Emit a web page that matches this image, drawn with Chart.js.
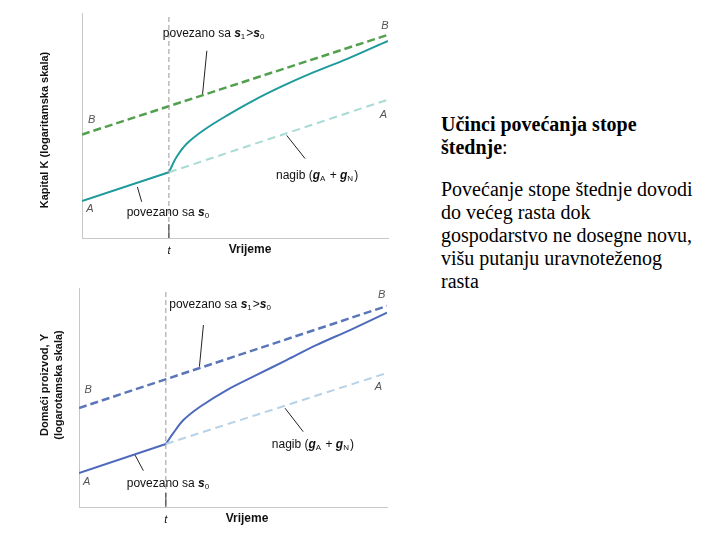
<!DOCTYPE html>
<html>
<head>
<meta charset="utf-8">
<script src="https://cdn.jsdelivr.net/npm/chart.js@4"></script>
<style>
  body { margin: 0; background: #fff; width: 720px; height: 540px; overflow: hidden; position: relative; }
  .panel { position: absolute; left: 0; width: 400px; height: 270px; }
  .txt { position: absolute; left: 441px; font-family: "Liberation Serif", "Times New Roman", serif; font-size: 20px; line-height: 23px; color: #000; }
</style>
</head>
<body>
<div class="panel" style="top:0"><canvas id="chartK" width="400" height="270"></canvas></div>
<div class="panel" style="top:270px"><canvas id="chartY" width="400" height="270"></canvas></div>
<div class="txt" style="top:113px"><b>Učinci povećanja stope<br>štednje</b>:</div>
<div class="txt" style="top:178px">Povećanje stope štednje dovodi<br>do većeg rasta dok<br>gospodarstvo ne dosegne novu,<br>višu putanju uravnoteženog<br>rasta</div>

<script>
// time axis (arbitrary units), switch moment t
var tK = 2.84, tY = 2.82;

// capital panel (log scale values)
var kB_x = [0, 10], kB_y = [4.60, 9.03];
var kPre_x = [0, tK], kPre_y = [1.64, 2.92];
var kPost_x = [tK, 3.09, 3.42, 3.96, 4.73, 5.60, 6.58, 7.56, 8.65, 10];
var kPost_y = [2.92, 3.60, 4.19, 4.78, 5.44, 6.11, 6.77, 7.36, 7.95, 8.76];
var kA_x = [tK, 10], kA_y = [2.92, 6.15];

// output panel (log scale values)
var yB_x = [0, 10], yB_y = [4.52, 9.18];
var yPre_x = [0, tY], yPre_y = [1.55, 2.88];
var yPost_x = [tY, 3.06, 3.39, 3.93, 4.80, 5.77, 6.74, 7.72, 8.80, 10];
var yPost_y = [2.88, 3.37, 3.97, 4.58, 5.34, 6.03, 6.71, 7.40, 8.08, 8.87];
var yA_x = [tY, 10], yA_y = [2.88, 6.12];

function pts(xs, ys) {
    return xs.map((x, i) => ({ x: x, y: ys[i] }));
}

// rich text: parts with italic / subscript
function drawRich(ctx, parts, x, y) {
    parts.forEach((p) => {
        let size = p.sub ? 8 : 12;
        ctx.font = (p.it ? 'italic bold ' : '') + size + 'px "Liberation Sans", Arial, sans-serif';
        ctx.fillText(p.t, x, p.sub ? y + 3 : y);
        x += ctx.measureText(p.t).width + (p.sub ? 1 : 0);
    });
}

const S1S0 = [{ t: 'povezano sa ' }, { t: 's', it: true }, { t: '1', sub: true }, { t: '>' }, { t: 's', it: true }, { t: '0', sub: true }];
const S0 = [{ t: 'povezano sa ' }, { t: 's', it: true }, { t: '0', sub: true }];
const NAGIB = [{ t: 'nagib (' }, { t: 'g', it: true }, { t: 'A', sub: true }, { t: ' + ' }, { t: 'g', it: true }, { t: 'N', sub: true }, { t: ')' }];

function annotPlugin(cfg) {
    return {
        id: 'annot',
        afterDatasetsDraw(chart) {
            const ctx = chart.ctx, xs = chart.scales.x, ys = chart.scales.y, area = chart.chartArea;
            const px = (v) => xs.getPixelForValue(v), py = (v) => ys.getPixelForValue(v);
            ctx.save();
            // vertical line at t
            ctx.strokeStyle = '#9a9a9a';
            ctx.lineWidth = 1;
            ctx.setLineDash([5, 3]);
            ctx.beginPath();
            ctx.moveTo(px(cfg.t), area.top + 4);
            ctx.lineTo(px(cfg.t), area.bottom);
            ctx.stroke();
            ctx.setLineDash([]);
            ctx.strokeStyle = '#333';
            ctx.beginPath();
            ctx.moveTo(px(cfg.t), area.bottom - 14);
            ctx.lineTo(px(cfg.t), area.bottom);
            ctx.stroke();

            // leader lines
            ctx.strokeStyle = '#222';
            cfg.leaders.forEach((l) => {
                ctx.beginPath();
                ctx.moveTo(px(l[0]), py(l[1]));
                ctx.lineTo(px(l[2]), py(l[3]));
                ctx.stroke();
            });

            ctx.fillStyle = '#111';
            ctx.textBaseline = 'middle';
            ctx.textAlign = 'left';
            cfg.texts.forEach((tx) => drawRich(ctx, tx.parts, px(tx.x), py(tx.y)));

            ctx.fillStyle = '#555';
            ctx.textAlign = 'center';
            ctx.font = 'italic 11px "Liberation Sans", Arial, sans-serif';
            cfg.letters.forEach((lt) => ctx.fillText(lt[0], px(lt[1]), py(lt[2])));

            // axis labels
            ctx.fillStyle = '#111';
            ctx.font = 'italic 11px "Liberation Sans", Arial, sans-serif';
            ctx.fillText('t', px(cfg.t), area.bottom + 13);
            ctx.font = 'bold 12px "Liberation Sans", Arial, sans-serif';
            ctx.fillText('Vrijeme', area.left + 168, area.bottom + 12);
            ctx.font = 'bold 11px "Liberation Sans", Arial, sans-serif';
            ctx.translate(cfg.yTitleX[0], cfg.yTitleY);
            ctx.rotate(-Math.PI / 2);
            cfg.yTitle.forEach((line, i) => ctx.fillText(line, 0, cfg.yTitleX[i] - cfg.yTitleX[0]));
            ctx.restore();
        }
    };
}

function makeChart(id, sets, pad, cfg) {
    const ctx = document.getElementById(id).getContext('2d');
    return new Chart(ctx, {
        type: 'line',
        data: {
            datasets: sets.map((s) => ({
                data: s.data,
                borderColor: s.color,
                borderWidth: s.width,
                borderDash: s.dash || [],
                pointRadius: 0,
                fill: false,
                tension: s.curve ? 0.35 : 0
            }))
        },
        options: {
            responsive: false,
            animation: false,
            layout: { padding: pad },
            plugins: { legend: { display: false }, tooltip: { enabled: false } },
            scales: {
                x: {
                    type: 'linear', min: 0, max: 10,
                    grid: { display: false },
                    border: { display: true, color: '#c8c8c8', width: 1 },
                    ticks: { display: false }
                },
                y: {
                    min: 0, max: 10,
                    grid: { display: false },
                    border: { display: true, color: '#c8c8c8', width: 1 },
                    ticks: { display: false }
                }
            }
        },
        plugins: [annotPlugin(cfg)]
    });
}

makeChart('chartK', [
    { data: pts(kB_x, kB_y), color: '#52a04e', width: 2.5, dash: [8, 4] },
    { data: pts(kA_x, kA_y), color: '#a8dbd3', width: 2, dash: [8, 5] },
    { data: pts(kPre_x, kPre_y), color: '#1e9a9c', width: 2 },
    { data: pts(kPost_x, kPost_y), color: '#1e9a9c', width: 2, curve: true }
], { left: 74, top: 13, right: 12, bottom: 24 }, {
    t: tK,
    leaders: [[4.08, 8.32, 3.94, 6.40], [6.69, 4.56, 7.29, 3.53], [1.81, 2.27, 1.95, 1.61]],
    texts: [{ parts: S1S0, x: 2.64, y: 9.07 }, { parts: NAGIB, x: 6.34, y: 2.76 }, { parts: S0, x: 1.46, y: 1.12 }],
    letters: [['B', 0.32, 5.25], ['B', 9.90, 9.42], ['A', 9.85, 5.49], ['A', 0.26, 1.27]],
    yTitle: ['Kapital K (logaritamska skala)'],
    yTitleX: [45], yTitleY: 130
});

makeChart('chartY', [
    { data: pts(yB_x, yB_y), color: '#5a76b8', width: 2.5, dash: [8, 4] },
    { data: pts(yA_x, yA_y), color: '#b6d2e8', width: 2, dash: [8, 5] },
    { data: pts(yPre_x, yPre_y), color: '#4e6abc', width: 2 },
    { data: pts(yPost_x, yPost_y), color: '#4e6abc', width: 2, curve: true }
], { left: 71, top: 18, right: 13, bottom: 25 }, {
    t: tY,
    leaders: [[4.04, 8.31, 3.91, 6.41], [6.69, 4.51, 7.28, 3.44], [1.82, 2.37, 2.09, 1.66]],
    texts: [{ parts: S1S0, x: 2.93, y: 9.22 }, { parts: NAGIB, x: 6.26, y: 2.83 }, { parts: S0, x: 1.55, y: 1.05 }],
    letters: [['B', 0.30, 5.34], ['B', 9.83, 9.68], ['A', 9.72, 5.49], ['A', 0.25, 1.16]],
    yTitle: ['Domaći proizvod, Y', '(logarotamska skala)'],
    yTitleX: [45, 59], yTitleY: 115
});
</script>
</body>
</html>
